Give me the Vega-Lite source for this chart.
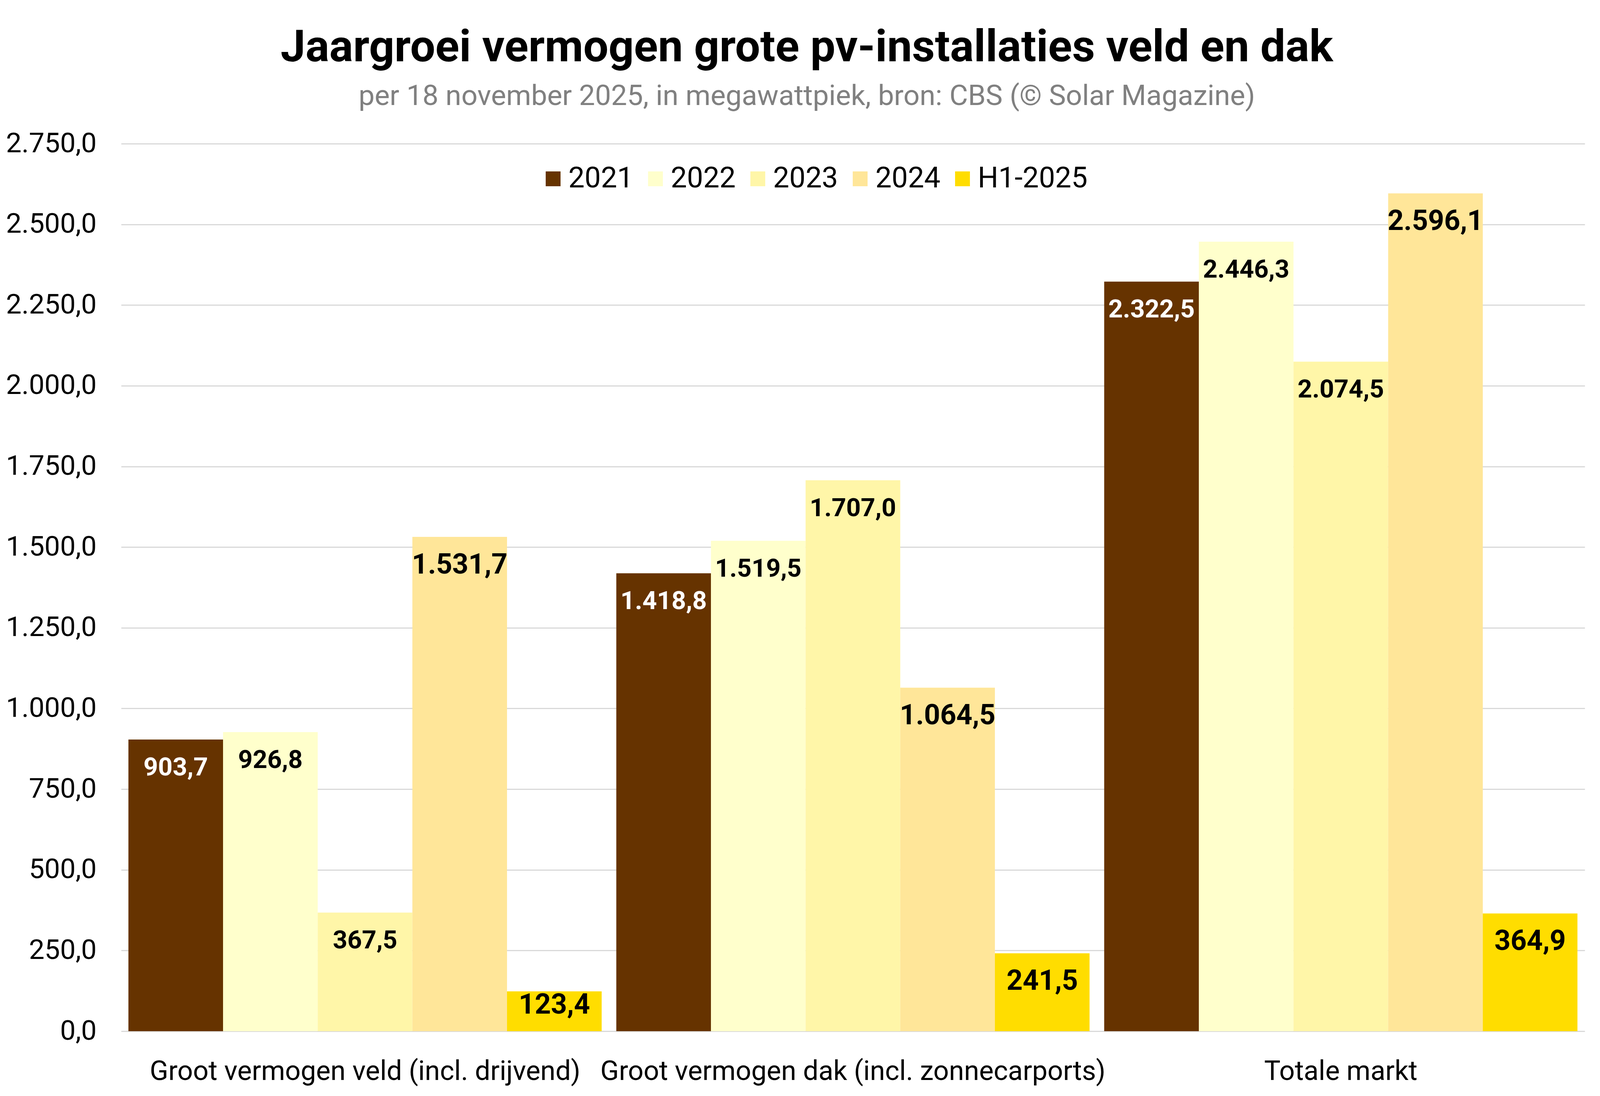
{
  "$schema": "https://vega.github.io/schema/vega-lite/v6.json",
  "width": "container",
  "height": 2807,
  "autosize": {"type": "fit", "contains": "padding"},
  "padding": {"left": 14, "top": 66, "right": 39, "bottom": 28},
  "background": "white",
  "config": {
    "locale": {"number": {"decimal": ",", "thousands": ".", "grouping": [3], "currency": ["€", ""]}},
    "font": "Roboto",
    "view": {"stroke": null}
  },
  "title": {
    "text": "Jaargroei vermogen grote pv-installaties veld en dak",
    "subtitle": "per 18 november 2025, in megawattpiek, bron: CBS (© Solar Magazine)",
    "anchor": "middle",
    "dx": -118,
    "fontSize": 114,
    "fontWeight": "bold",
    "font": "Roboto",
    "color": "#000000",
    "subtitleFont": "Roboto",
    "subtitleFontSize": 73,
    "subtitleColor": "#808080",
    "subtitlePadding": 30,
    "offset": 47
  },
  "data": {
    "values": [
      {"categorie": "Groot vermogen veld (incl. drijvend)", "jaar": "2021", "vermogen": 903.7},
      {"categorie": "Groot vermogen veld (incl. drijvend)", "jaar": "2022", "vermogen": 926.8},
      {"categorie": "Groot vermogen veld (incl. drijvend)", "jaar": "2023", "vermogen": 367.5},
      {"categorie": "Groot vermogen veld (incl. drijvend)", "jaar": "2024", "vermogen": 1531.7},
      {"categorie": "Groot vermogen veld (incl. drijvend)", "jaar": "H1-2025", "vermogen": 123.4},
      {"categorie": "Groot vermogen dak (incl. zonnecarports)", "jaar": "2021", "vermogen": 1418.8},
      {"categorie": "Groot vermogen dak (incl. zonnecarports)", "jaar": "2022", "vermogen": 1519.5},
      {"categorie": "Groot vermogen dak (incl. zonnecarports)", "jaar": "2023", "vermogen": 1707.0},
      {"categorie": "Groot vermogen dak (incl. zonnecarports)", "jaar": "2024", "vermogen": 1064.5},
      {"categorie": "Groot vermogen dak (incl. zonnecarports)", "jaar": "H1-2025", "vermogen": 241.5},
      {"categorie": "Totale markt", "jaar": "2021", "vermogen": 2322.5},
      {"categorie": "Totale markt", "jaar": "2022", "vermogen": 2446.3},
      {"categorie": "Totale markt", "jaar": "2023", "vermogen": 2074.5},
      {"categorie": "Totale markt", "jaar": "2024", "vermogen": 2596.1},
      {"categorie": "Totale markt", "jaar": "H1-2025", "vermogen": 364.9}
    ]
  },
  "encoding": {
    "x": {
      "field": "categorie",
      "type": "nominal",
      "sort": ["Groot vermogen veld (incl. drijvend)", "Groot vermogen dak (incl. zonnecarports)", "Totale markt"],
      "scale": {"paddingInner": 0.03, "paddingOuter": 0.015},
      "axis": {
        "title": null,
        "labelAngle": 0,
        "labelFontSize": 70,
        "labelFont": "Roboto",
        "labelColor": "#000000",
        "labelPadding": 69,
        "ticks": false,
        "tickSize": 0,
        "domain": false,
        "labelLimit": 3000
      }
    },
    "xOffset": {
      "field": "jaar",
      "type": "nominal",
      "sort": ["2021", "2022", "2023", "2024", "H1-2025"],
      "scale": {"paddingInner": 0, "paddingOuter": 0}
    },
    "y": {
      "field": "vermogen",
      "type": "quantitative",
      "scale": {"domain": [0, 2750], "nice": false},
      "axis": {
        "title": null,
        "values": [0, 250, 500, 750, 1000, 1250, 1500, 1750, 2000, 2250, 2500, 2750],
        "format": ",.1f",
        "labelFontSize": 71,
        "labelFont": "Roboto",
        "labelColor": "#000000",
        "labelPadding": 63,
        "labelLimit": 1000,
        "ticks": false,
        "tickSize": 0,
        "domain": false,
        "grid": true,
        "gridColor": "#D9D9D9",
        "gridWidth": 3
      }
    }
  },
  "layer": [
    {
      "mark": {"type": "bar"},
      "encoding": {
        "color": {
          "field": "jaar",
          "type": "nominal",
          "scale": {
            "domain": ["2021", "2022", "2023", "2024", "H1-2025"],
            "range": ["#663300", "#FFFFCC", "#FFF6A8", "#FFE699", "#FFDD00"]
          },
          "legend": {
            "title": null,
            "orient": "none",
            "direction": "horizontal",
            "legendX": 1069,
            "legendY": 53,
            "symbolType": "square",
            "symbolSize": 1444,
            "symbolStrokeWidth": 0,
            "labelFontSize": 74,
            "labelFont": "Roboto",
            "labelColor": "#000000",
            "labelOffset": 2,
            "labelLimit": 1000,
            "columnPadding": 19,
            "padding": 0
          }
        }
      }
    },
    {
      "transform": [{"filter": "datum.jaar === '2021' || datum.jaar === '2022' || datum.jaar === '2023'"}],
      "mark": {"type": "text", "baseline": "top", "dy": 41, "fontWeight": "bold", "font": "Roboto", "fontSize": 65},
      "encoding": {
        "text": {"field": "vermogen", "type": "quantitative", "format": ",.1f"},
        "color": {
          "condition": {"test": "datum.jaar === '2021'", "value": "#FFFFFF"},
          "value": "#000000"
        }
      }
    },
    {
      "transform": [{"filter": "(datum.jaar === '2024' || datum.jaar === 'H1-2025') && datum.vermogen >= 200"}],
      "mark": {"type": "text", "baseline": "top", "dy": 37, "fontWeight": "bold", "font": "Roboto", "fontSize": 72, "color": "#000000"},
      "encoding": {
        "text": {"field": "vermogen", "type": "quantitative", "format": ",.1f"}
      }
    },
    {
      "transform": [{"filter": "(datum.jaar === '2024' || datum.jaar === 'H1-2025') && datum.vermogen < 200"}],
      "mark": {"type": "text", "baseline": "top", "dy": 0, "fontWeight": "bold", "font": "Roboto", "fontSize": 72, "color": "#000000"},
      "encoding": {
        "text": {"field": "vermogen", "type": "quantitative", "format": ",.1f"}
      }
    }
  ]
}
